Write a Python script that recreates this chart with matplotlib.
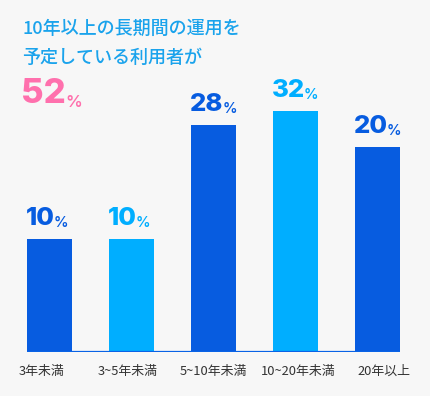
import matplotlib
matplotlib.use("Agg")
import matplotlib.pyplot as plt
import numpy as np

plt.rcParams['font.family'] = ['Noto Sans CJK JP', 'DejaVu Sans']

# data
categories = ['3年未満', '3~5年未満', '5~10年未満', '10~20年未満', '20年以上']
values = [10, 10, 28, 32, 20]
# drawn bar lengths as they appear in the picture (not proportional to values)
bar_heights = [113, 113, 227, 241, 205]
headline = '52'
title_lines = ['10年以上の長期間の運用を', '予定している利用者が']

DARK = '#075ce0'
LIGHT = '#00aeff'
PINK = '#ff70ad'
TITLE = '#1aa3ec'
BG = '#f7f7f7'
bar_colors = [DARK, LIGHT, DARK, LIGHT, DARK]

W, H = 430, 396
fig = plt.figure(figsize=(W / 100, H / 100), dpi=100, facecolor=BG)

# axes placed so the baseline sits at y=352px and bars run 27..399px
ax = fig.add_axes([27 / W, (H - 352) / H, 373 / W, 250 / H], facecolor=BG)
width = 0.55
x = np.arange(len(categories))
ax.bar(x, bar_heights, width=width, color=bar_colors, zorder=2)
ax.set_xlim(-width / 2, len(categories) - 1 + width / 2)
ax.set_ylim(0, 250)
ax.axhline(0, color='#0a63e6', lw=1.6, zorder=3)

for s in ax.spines.values():
    s.set_visible(False)
ax.set_yticks([])
# labels sit on a slightly wider grid than the bars
ax.set_xticks(x * 1.043 - 0.092)
ax.set_xticklabels(categories, fontsize=9.3, color='#333333')
ax.tick_params(axis='x', length=0, pad=9)

# value labels: big number + small percent sign
for xi, h, v, c in zip(x, bar_heights, values, bar_colors):
    num = ax.annotate(str(v), xy=(xi - width / 2, h), xytext=(-1, 10),
                      textcoords='offset points', ha='left', va='baseline',
                      fontsize=18.5, fontweight='heavy', color=c,
                      family=['Inter', 'DejaVu Sans'])
    ax.annotate('%', xy=(1, 0), xycoords=num, xytext=(-0.5, 0),
                textcoords='offset points', ha='left', va='bottom',
                fontsize=10.5, fontweight='semibold', color=c,
                family=['Inter', 'DejaVu Sans'])

# headline text
fig.text(22 / W, 1 - 29 / H, title_lines[0], fontsize=13, fontweight='medium',
         color=TITLE, ha='left', va='center')
fig.text(22 / W, 1 - 58 / H, title_lines[1], fontsize=13, fontweight='medium',
         color=TITLE, ha='left', va='center')
big = fig.text(21 / W, 1 - 103 / H, headline, fontsize=25, fontweight='heavy',
               color=PINK, ha='left', va='baseline', family=['Inter', 'DejaVu Sans'])
ax.annotate('%', xy=(1, 0), xycoords=big, xytext=(-0.5, 0), textcoords='offset points',
            ha='left', va='bottom', fontsize=12, fontweight='semibold', color=PINK,
            family=['Inter', 'DejaVu Sans'], annotation_clip=False)

fig.savefig('out.png', dpi=100, facecolor=BG)
